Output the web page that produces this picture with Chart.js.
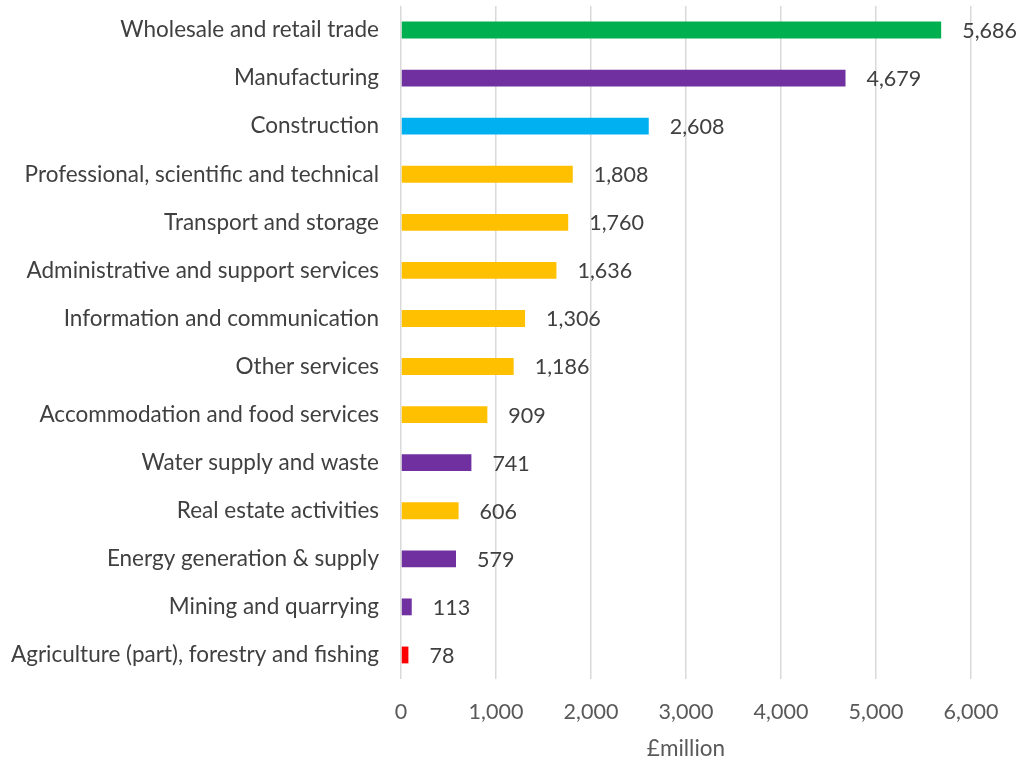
<!DOCTYPE html>
<html>
<head>
<meta charset="utf-8">
<script src="https://cdn.jsdelivr.net/npm/chart.js@4"></script>
<style>
  html, body { margin: 0; padding: 0; background: #fff; }
  #wrap { width: 1021px; height: 762px; }
</style>
</head>
<body>
<div id="wrap"><canvas id="myChart"></canvas></div>
<script>
const categories = [
  "Wholesale and retail trade",
  "Manufacturing",
  "Construction",
  "Professional, scientific and technical",
  "Transport and storage",
  "Administrative and support services",
  "Information and communication",
  "Other services",
  "Accommodation and food services",
  "Water supply and waste",
  "Real estate activities",
  "Energy generation & supply",
  "Mining and quarrying",
  "Agriculture (part), forestry and fishing"
]
const values = [5686, 4679, 2608, 1808, 1760, 1636, 1306, 1186, 909, 741, 606, 579, 113, 78]
const barColors = [
  "#00B050", "#7030A0", "#00B0F0", "#FFC000", "#FFC000", "#FFC000", "#FFC000",
  "#FFC000", "#FFC000", "#7030A0", "#FFC000", "#7030A0", "#7030A0", "#FF0000"
]
const xTicks = [0, 1000, 2000, 3000, 4000, 5000, 6000]
const xTitle = "£million"

const FONT = "Lato, 'Open Sans', sans-serif"

// draws the value next to each bar
const valueLabels = {
  id: "valueLabels",
  afterDatasetsDraw(chart) {
    const ctx = chart.ctx
    const meta = chart.getDatasetMeta(0)
    ctx.save()
    ctx.font = "21.5px " + FONT
    ctx.fillStyle = "#404040"
    ctx.textAlign = "left"
    ctx.textBaseline = "middle"
    meta.data.forEach((bar, i) => {
      ctx.fillText(values[i].toLocaleString("en-GB"), bar.x + 21, bar.y + 1)
    })
    ctx.restore()
  }
}

const config = {
  type: "bar",
  data: {
    labels: categories,
    datasets: [{
      data: values,
      backgroundColor: barColors,
      borderWidth: 0,
      categoryPercentage: 1,
      barPercentage: 0.35
    }]
  },
  options: {
    indexAxis: "y",
    responsive: false,
    animation: false,
    layout: { padding: { top: 6, right: 50, bottom: 0, left: 0 } },
    plugins: { legend: { display: false }, tooltip: { enabled: false } },
    scales: {
      x: {
        min: 0,
        max: 6000,
        afterBuildTicks(axis) { axis.ticks = xTicks.map(v => ({ value: v })) },
        grid: { color: "#D9D9D9", lineWidth: 1.5, drawTicks: false },
        border: { display: false },
        ticks: {
          color: "#595959",
          font: { family: FONT, size: 21.5 },
          padding: 20,
          callback: v => v.toLocaleString("en-GB")
        },
        title: {
          display: true,
          text: xTitle,
          color: "#595959",
          font: { family: FONT, size: 22.5 },
          padding: { top: 8, bottom: 0 }
        },
        afterFit(axis) { axis.height = 83; axis.paddingLeft = 0; axis.paddingRight = 0 }
      },
      y: {
        grid: { display: false, drawTicks: false },
        border: { display: false },
        ticks: {
          color: "#404040",
          font: { family: FONT, size: 22.5 },
          padding: 22,
          autoSkip: false
        },
        afterFit(axis) { axis.width = 401; axis.paddingTop = 0; axis.paddingBottom = 0 }
      }
    }
  },
  plugins: [valueLabels]
}

const canvas = document.getElementById("myChart")
canvas.width = 1021
canvas.height = 762
const salesChart = new Chart(canvas, config)
</script>
</body>
</html>
